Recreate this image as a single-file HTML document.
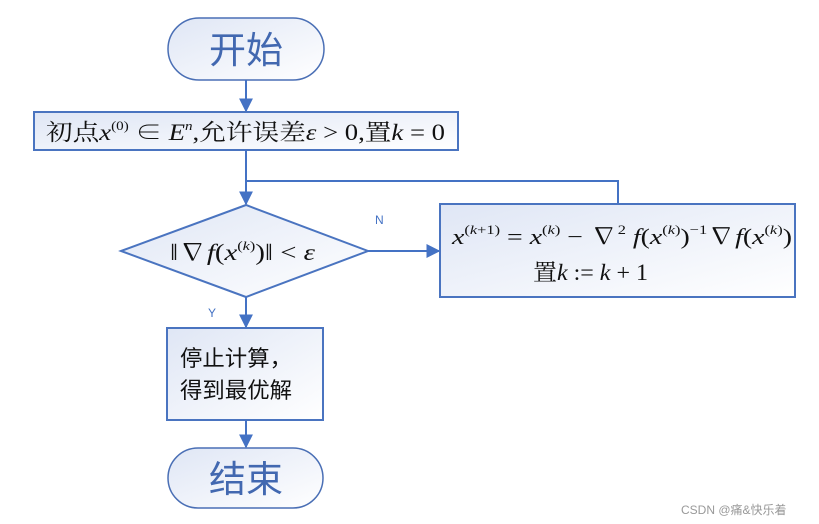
<!DOCTYPE html>
<html><head><meta charset="utf-8"><style>
html,body{margin:0;padding:0;background:#fff;}
svg{display:block;}
.cjk{font-family:"Liberation Serif","Noto Serif CJK SC",serif;}
.sans{font-family:"Liberation Sans","Noto Sans CJK SC",sans-serif;}
.m{font-family:"Liberation Serif","Noto Serif CJK SC",serif;font-style:italic;}
</style></head><body>
<svg width="819" height="524" viewBox="0 0 819 524" xmlns="http://www.w3.org/2000/svg">
<defs>
<linearGradient id="g" x1="0" y1="0" x2="1" y2="1">
<stop offset="0" stop-color="#dfe6f5"/><stop offset="1" stop-color="#ffffff"/>
</linearGradient>
<marker id="b" viewBox="0 0 10 10" markerWidth="14" markerHeight="14" refX="9" refY="5" orient="auto" markerUnits="userSpaceOnUse">
<path d="M0,0 L10,5 L0,10 z" fill="#4472c4"/>
</marker>
</defs>
<g stroke="#4472c4" stroke-width="2" fill="none">
<rect x="168" y="18" width="156" height="62" rx="31" fill="url(#g)" stroke="#4a6fb5" stroke-width="1.5"/>
<line x1="246" y1="80" x2="246" y2="111" marker-end="url(#b)"/>
<rect x="34" y="112" width="424" height="38" fill="url(#g)" stroke="#4a74c0" stroke-width="2"/>
<line x1="246" y1="150" x2="246" y2="204" marker-end="url(#b)"/>
<polyline points="246,181 618,181 618,204"/>
<polygon points="121,251 246,205 368,251 246,297" fill="url(#g)" stroke="#4a74c0"/>
<line x1="368" y1="251" x2="439" y2="251" marker-end="url(#b)"/>
<rect x="440" y="204" width="355" height="93" fill="url(#g)" stroke="#4a74c0"/>
<line x1="246" y1="297" x2="246" y2="327" marker-end="url(#b)"/>
<rect x="167" y="328" width="156" height="92" fill="url(#g)" stroke="#4a74c0"/>
<line x1="246" y1="420" x2="246" y2="447" marker-end="url(#b)"/>
<rect x="168" y="448" width="155" height="60" rx="30" fill="url(#g)" stroke="#4a6fb5" stroke-width="1.5"/>
</g>
<text x="246" y="63" text-anchor="middle" class="sans" font-size="37" fill="#4268b0">开始</text>
<text x="246" y="492" text-anchor="middle" class="sans" font-size="37" fill="#4268b0">结束</text>
<text x="46" y="140" class="cjk" font-size="23" fill="#111" textLength="399" lengthAdjust="spacingAndGlyphs">初点<tspan class="m">x</tspan><tspan font-size="13" dy="-10">(0)</tspan><tspan dy="10"> ∈ </tspan><tspan class="m">E</tspan><tspan class="m" font-size="13" dy="-10">n</tspan><tspan dy="10">,允许误差</tspan><tspan class="m">ε</tspan> &gt; 0,置<tspan class="m">k</tspan> = 0</text>
<text x="170" y="260" class="cjk" font-size="23" fill="#111" textLength="145" lengthAdjust="spacingAndGlyphs">‖∇<tspan class="m">f</tspan>(<tspan class="m">x</tspan><tspan font-size="13" dy="-10">(<tspan class="m">k</tspan>)</tspan><tspan dy="10">)‖ &lt; </tspan><tspan class="m">ε</tspan></text>
<text x="452" y="244" class="cjk" font-size="22" fill="#111" textLength="340" lengthAdjust="spacingAndGlyphs"><tspan class="m">x</tspan><tspan font-size="13" dy="-10">(<tspan class="m">k</tspan>+1)</tspan><tspan dy="10"> = </tspan><tspan class="m">x</tspan><tspan font-size="13" dy="-10">(<tspan class="m">k</tspan>)</tspan><tspan dy="10"> − ∇</tspan><tspan font-size="13" dy="-10">2</tspan><tspan dy="10" class="m"> f</tspan>(<tspan class="m">x</tspan><tspan font-size="13" dy="-10">(<tspan class="m">k</tspan>)</tspan><tspan dy="10">)</tspan><tspan font-size="13" dy="-10">−1</tspan><tspan dy="10">∇</tspan><tspan class="m">f</tspan>(<tspan class="m">x</tspan><tspan font-size="13" dy="-10">(<tspan class="m">k</tspan>)</tspan><tspan dy="10">)</tspan></text>
<text x="533" y="280" class="cjk" font-size="23" fill="#111" textLength="115" lengthAdjust="spacingAndGlyphs">置<tspan class="m">k</tspan> := <tspan class="m">k</tspan> + 1</text>
<text x="180" y="366" class="sans" font-size="22" fill="#111" textLength="112" lengthAdjust="spacingAndGlyphs">停止计算，</text>
<text x="180" y="398" class="sans" font-size="22" fill="#111" textLength="112" lengthAdjust="spacingAndGlyphs">得到最优解</text>
<text x="375" y="224" class="sans" font-size="12" fill="#4472c4">N</text>
<text x="208" y="317" class="sans" font-size="12" fill="#4472c4">Y</text>
<text x="681" y="514" class="sans" font-size="12" fill="#999">CSDN @痛&amp;快乐着</text>
</svg>
</body></html>
